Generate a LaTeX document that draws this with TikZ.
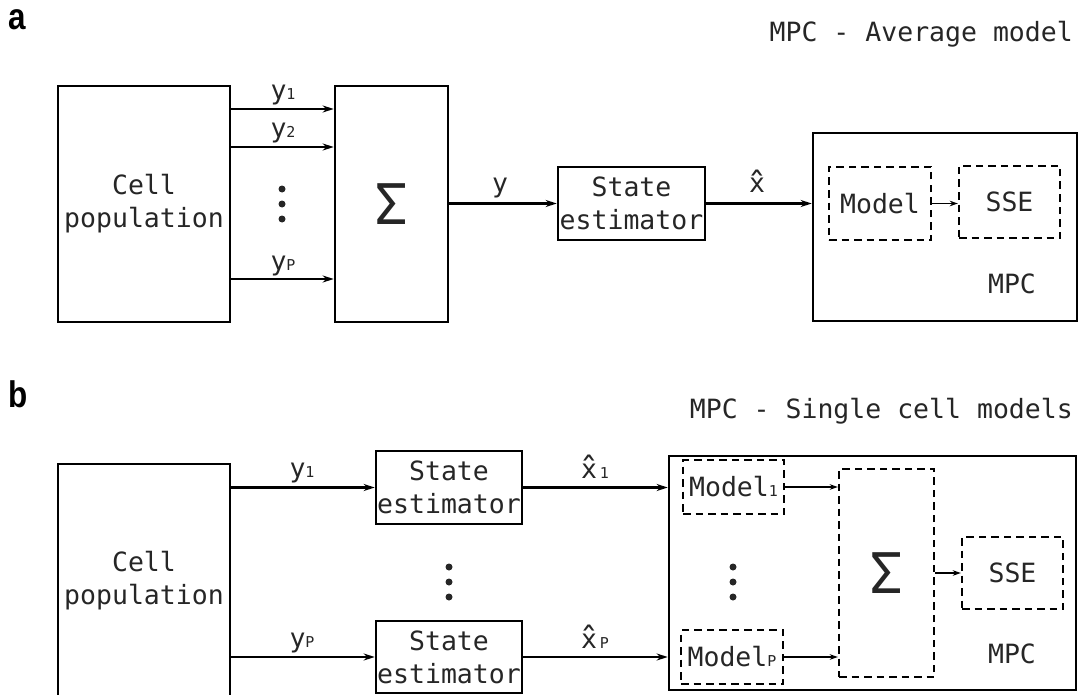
\documentclass[tikz,border=0pt]{standalone}
\usepackage{fontspec}
\usepackage{graphicx}
\setmonofont{DejaVu Sans Mono}
\newfontfamily\lblfont[FakeStretch=0.85]{Liberation Sans}
\usetikzlibrary{arrows.meta,calc}
\newcommand\sbs[1]{{\fontsize{15}{15}\selectfont #1}}
\newcommand\xhat{\leavevmode\makebox[0pt][l]{\makebox[0.602em]{\raisebox{-0.13em}{\scalebox{1.35}[1.25]{\char"02C6}}}}x}
\definecolor{txt}{HTML}{262626}
\begin{document}
\begin{tikzpicture}[x=1pt,y=-1pt,
  every node/.style={font=\ttfamily\fontsize{26.5}{33}\selectfont, text=txt},
  blk/.style={draw=black, line width=2.6pt, inner sep=0pt, align=center},
  dbox/.style={draw=black, line width=2.4pt, dash pattern=on 7.5pt off 5pt, inner sep=0pt, align=center},
  arr/.style={line width=2.3pt, -{Stealth[length=11pt,width=7pt]}},
  sarr/.style={line width=1.9pt, -{Stealth[length=8pt,width=5.5pt]}},
  lbl/.style={anchor=base, inner sep=0pt},
  dotn/.style={circle, fill=txt, inner sep=0pt, minimum size=7pt},
  panel/.style={font=\lblfont\bfseries\fontsize{37}{37}\selectfont, text=black, inner sep=0pt, anchor=base west},
  sig/.style={font=\ttfamily\fontsize{56}{56}\selectfont}
]
\useasboundingbox (0,0) rectangle (1083,695);
\clip (0,0) rectangle (1083,695);

% ---------- panel a ----------
\node[panel] (la) at (8,30) {a};
\node[anchor=base east, inner sep=0pt] (ta) at (1073,42) {MPC - Average model};

\node[blk, minimum width=172, minimum height=236] (cpA) at (144,204) {Cell\\population};
\node[blk, minimum width=113, minimum height=236, sig] (sgA) at (391.5,204) {Σ};
\node[blk, minimum width=147, minimum height=73] (seA) at (631.5,203.5) {State\\estimator};
\node[blk, minimum width=264, minimum height=188] (mpcA) at (945,227) {};
\node[dbox, minimum width=102, minimum height=73] (mdA) at (880,203.5) {Model};
\node[dbox, minimum width=101, minimum height=72] (sseA) at (1009.5,202) {SSE};
\node (mpcAl) at (1012,284) {MPC};

\draw[arr] (cpA.east |- 0,109) -- (sgA.west |- 0,109);
\draw[arr] (cpA.east |- 0,147) -- (sgA.west |- 0,147);
\draw[arr] (cpA.east |- 0,279) -- (sgA.west |- 0,279);
\node[lbl] (y1A) at (283,100) {y\sbs{1}};
\node[lbl] (y2A) at (283,138) {y\sbs{2}};
\node[lbl] (ypA) at (283,270) {y\sbs{P}};
\node[dotn] (dA1) at (282,189) {};
\node[dotn] (dA2) at (282,204) {};
\node[dotn] (dA3) at (282,219) {};

\draw[arr] (sgA.east |- seA.west) -- (seA.west);
\node[lbl] (yA) at (500,193) {y};
\draw[arr] (seA.east) -- (mpcA.west |- seA.east);
\node[lbl] (xhA) at (757,193) {\xhat};
\draw[sarr] (mdA.east) -- (sseA.west |- mdA.east);

% ---------- panel b ----------
\node[panel] (lb) at (8,407) {b};
\node[anchor=base east, inner sep=0pt] (tb) at (1073,418) {MPC - Single cell models};

\node[blk, minimum width=172, minimum height=234] (cpB) at (144,581) {Cell\\population};
\node[blk, minimum width=146, minimum height=73] (se1B) at (449,487.5) {State\\estimator};
\node[blk, minimum width=146, minimum height=72] (sepB) at (449,657) {State\\estimator};
\draw[arr] (cpB.east |- se1B.west) -- (se1B.west);
\draw[arr] (cpB.east |- sepB.west) -- (sepB.west);
\node[lbl] (y1B) at (302,477) {y\sbs{1}};
\node[lbl] (ypB) at (302,647) {y\sbs{P}};
\node[dotn] (dB1) at (449,567) {};
\node[dotn] (dB2) at (449,582) {};
\node[dotn] (dB3) at (449,597) {};

\node[blk, minimum width=407, minimum height=234] (mpcB) at (872.5,573) {};
\node[dbox, minimum width=101, minimum height=54] (m1B) at (733.5,487) {Model\sbs{1}};
\node[dbox, minimum width=102, minimum height=54] (mpB) at (732,657) {Model\sbs{P}};
\node[dbox, minimum width=95, minimum height=208, sig] (sgB) at (886.5,573) {Σ};
\node[dbox, minimum width=101, minimum height=72] (sseB) at (1012.5,573) {SSE};
\node (mpcBl) at (1012,654) {MPC};
\node[dotn] (dC1) at (733,567) {};
\node[dotn] (dC2) at (733,582) {};
\node[dotn] (dC3) at (733,597) {};

\draw[arr] (se1B.east) -- (mpcB.west |- se1B.east);
\draw[arr] (sepB.east) -- (mpcB.west |- sepB.east);
\node[lbl] (x1B) at (595,478) {\xhat\kern3pt\sbs{1}};
\node[lbl] (xpB) at (595,648) {\xhat\kern3pt\sbs{P}};
\draw[sarr] (m1B.east) -- (sgB.west |- m1B.east);
\draw[sarr] (mpB.east) -- (sgB.west |- mpB.east);
\draw[sarr] (sgB.east |- sseB.west) -- (sseB.west);
\end{tikzpicture}
\end{document}
